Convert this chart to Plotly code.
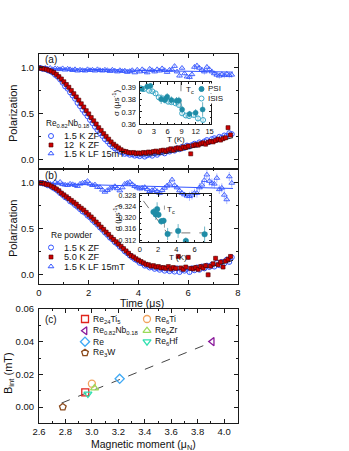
import numpy as np
import plotly.graph_objects as go

FONT = "Liberation Sans, Arial, Helvetica, sans-serif"

# ---------------- Panel (a): Re0.82Nb0.18 ----------------
t_a_zf15 = np.round(np.arange(0.05, 7.8, 0.1), 2)   # 1.5 K ZF time grid
p_a_zf15 = [1.00, 0.99, 0.99, 0.975, 0.965, 0.95, 0.925, 0.905, 0.875, 0.84,
            0.80, 0.775, 0.735, 0.70, 0.665, 0.62, 0.585, 0.545, 0.51, 0.475,
            0.435, 0.40, 0.36, 0.325, 0.29, 0.26, 0.225, 0.20, 0.17, 0.145,
            0.125, 0.105, 0.09, 0.08, 0.065, 0.07, 0.055, 0.06, 0.045, 0.05,
            0.04, 0.055, 0.035, 0.05, 0.06, 0.045, 0.07, 0.055, 0.075, 0.085,
            0.07, 0.095, 0.09, 0.11, 0.10, 0.125, 0.115, 0.14, 0.13, 0.155,
            0.145, 0.16, 0.175, 0.165, 0.19, 0.18, 0.2, 0.215, 0.195, 0.225,
            0.235, 0.22, 0.25, 0.24, 0.265, 0.26, 0.29, 0.28]
e_a_zf15 = [0.004] * 20 + [0.008] * 20 + [0.014] * 20 + [0.02] * 18

t_a_zf12 = np.round(np.arange(0.0, 7.75, 0.1), 2)   # 12 K ZF
p_a_zf12 = [1.00, 0.995, 0.99, 0.985, 0.975, 0.965, 0.95, 0.93, 0.905, 0.88,
            0.85, 0.82, 0.79, 0.755, 0.72, 0.685, 0.65, 0.61, 0.575, 0.535,
            0.50, 0.46, 0.425, 0.39, 0.35, 0.32, 0.285, 0.255, 0.225, 0.195,
            0.17, 0.15, 0.13, 0.11, 0.095, 0.09, 0.08, 0.075, 0.08, 0.07,
            0.075, 0.07, 0.08, 0.075, 0.085, 0.08, 0.09, 0.095, 0.085, 0.10,
            0.105, 0.095, 0.11, 0.12, 0.105, 0.125, 0.13, 0.12, 0.14, 0.135,
            0.15, 0.065, 0.155, 0.165, 0.16, 0.175, 0.185, 0.17, 0.19, 0.2,
            0.195, 0.21, 0.225, 0.215, 0.23, 0.24, 0.35, 0.27]
e_a_zf12 = [0.005] * 20 + [0.009] * 20 + [0.015] * 20 + [0.022] * 18

t_a_lf = np.round(np.arange(0.05, 7.8, 0.1), 2)     # 1.5 K LF 15 mT
p_a_lf = [1.0, 0.995, 1.0, 0.99, 1.0, 0.985, 0.995, 0.99, 0.985, 0.995,
          0.98, 0.99, 0.985, 0.975, 0.985, 0.97, 0.98, 0.975, 0.97, 0.985,
          0.975, 0.98, 0.97, 0.985, 0.975, 0.97, 0.98, 0.975, 0.965, 0.98,
          0.97, 0.96, 0.975, 0.965, 0.97, 0.955, 0.965, 0.975, 0.95, 0.98,
          0.96, 0.985, 0.965, 0.95, 0.99, 0.975, 0.96, 0.985, 0.97, 0.995,
          0.975, 0.955, 0.98, 0.98, 1.02, 0.96, 0.915, 1.0, 0.94, 0.905,
          0.9, 0.93, 1.01, 1.025, 1.0, 0.98, 0.96, 1.01, 0.985, 0.96,
          0.94, 0.925, 0.915, 0.93, 0.92, 0.935, 0.92, 0.925]
e_a_lf = [0.006] * 20 + [0.012] * 20 + [0.02] * 20 + [0.032] * 18

t_fit = np.round(np.arange(0.0, 7.81, 0.2), 2)
fit_a_15 = [1.0, 0.993, 0.975, 0.945, 0.90, 0.835, 0.77, 0.695, 0.615, 0.54,
            0.465, 0.39, 0.32, 0.255, 0.195, 0.145, 0.107, 0.08, 0.063, 0.054,
            0.05, 0.05, 0.053, 0.058, 0.066, 0.076, 0.087, 0.099, 0.112, 0.126,
            0.14, 0.154, 0.168, 0.182, 0.196, 0.21, 0.224, 0.238, 0.252, 0.266]
fit_a_12 = [1.0, 0.994, 0.978, 0.95, 0.905, 0.845, 0.78, 0.71, 0.635, 0.56,
            0.485, 0.41, 0.34, 0.275, 0.215, 0.16, 0.118, 0.085, 0.064, 0.052,
            0.046, 0.045, 0.047, 0.051, 0.057, 0.065, 0.074, 0.084, 0.095, 0.107,
            0.12, 0.133, 0.146, 0.159, 0.172, 0.186, 0.2, 0.214, 0.228, 0.242]
t_lf_fit = [0, 2, 4, 6, 7.8]
fit_a_lf = [0.995, 0.985, 0.975, 0.965, 0.955]

# ---------------- Panel (b): Re powder ----------------
t_b_zf15 = np.round(np.arange(0.05, 7.8, 0.1), 2)
p_b_zf15 = [1.0, 0.995, 0.99, 0.975, 0.97, 0.95, 0.935, 0.915, 0.89, 0.87,
            0.845, 0.83, 0.80, 0.785, 0.76, 0.74, 0.715, 0.69, 0.675, 0.645,
            0.625, 0.595, 0.57, 0.545, 0.515, 0.49, 0.46, 0.435, 0.405, 0.385,
            0.355, 0.335, 0.305, 0.285, 0.255, 0.235, 0.21, 0.19, 0.17, 0.155,
            0.13, 0.125, 0.10, 0.10, 0.08, 0.085, 0.065, 0.075, 0.055, 0.07,
            0.045, 0.065, 0.04, 0.06, 0.035, 0.07, 0.03, 0.055, 0.045, 0.065,
            0.03, 0.07, 0.05, 0.08, 0.055, 0.09, 0.07, 0.1, 0.085, 0.11,
            0.09, 0.13, 0.105, 0.14, 0.125, 0.165, 0.14, 0.19]
e_b_zf15 = [0.005] * 20 + [0.009] * 20 + [0.016] * 20 + [0.024] * 18

t_b_zf5 = np.round(np.arange(0.0, 7.75, 0.1), 2)
p_b_zf5 = [1.0, 1.0, 0.995, 0.985, 0.98, 0.965, 0.95, 0.935, 0.915, 0.89,
           0.87, 0.85, 0.83, 0.81, 0.79, 0.77, 0.745, 0.725, 0.705, 0.68,
           0.655, 0.63, 0.605, 0.575, 0.55, 0.52, 0.495, 0.465, 0.44, 0.41,
           0.385, 0.36, 0.335, 0.31, 0.285, 0.26, 0.235, 0.21, 0.195, 0.175,
           0.16, 0.145, 0.13, 0.115, 0.11, 0.095, 0.1, 0.085, 0.09, 0.075,
           0.08, 0.07, 0.09, 0.065, 0.08, 0.07, 0.2, 0.075, 0.06, 0.085,
           0.19, 0.07, 0.065, 0.08, 0.06, 0.09, 0.075, 0.1, 0.0, 0.095,
           0.12, 0.18, 0.11, 0.14, 0.085, 0.15, 0.17, 0.2]
e_b_zf5 = [0.005] * 20 + [0.01] * 20 + [0.018] * 20 + [0.026] * 18

t_b_lf = np.round(np.arange(0.05, 7.8, 0.1), 2)
p_b_lf = [1.0, 1.005, 0.995, 1.0, 0.99, 0.985, 1.01, 0.995,
          1.01, 0.985, 0.98, 0.975, 0.99, 0.985, 0.975, 0.965, 0.99, 1.0, 1.005, 1.02,
          0.99, 0.975, 0.982, 0.955, 0.953, 0.925, 0.902, 0.92, 0.938, 0.95,
          0.964, 0.94, 0.917, 0.95, 0.99, 1.0, 1.01, 0.985, 0.964, 0.95,
          0.938, 0.945, 0.953, 0.93, 0.91, 0.92, 0.928, 0.91, 0.89, 0.92,
          0.946, 0.97, 0.99, 1.036, 0.975, 0.95, 0.917, 0.89, 0.873, 0.86,
          0.855, 0.87, 0.89, 0.89, 0.95, 0.98, 1.03, 1.09, 1.02, 1.0,
          0.99, 1.054, 0.93, 0.946, 0.87, 0.82, 1.07, 1.0]
e_b_lf = [0.007] * 20 + [0.016] * 20 + [0.03] * 20 + [0.05] * 18

fit_b_15 = [1.0, 0.997, 0.985, 0.955, 0.915, 0.87, 0.83, 0.79, 0.748, 0.705,
            0.658, 0.605, 0.55, 0.495, 0.44, 0.388, 0.338, 0.288, 0.24, 0.195,
            0.157, 0.128, 0.105, 0.088, 0.077, 0.068, 0.062, 0.059, 0.058, 0.058,
            0.06, 0.065, 0.073, 0.083, 0.095, 0.11, 0.127, 0.147, 0.168, 0.19]
fit_b_5 = [1.0, 0.998, 0.987, 0.96, 0.922, 0.878, 0.838, 0.798, 0.756, 0.713,
           0.666, 0.614, 0.56, 0.505, 0.45, 0.398, 0.348, 0.298, 0.25, 0.205,
           0.166, 0.135, 0.11, 0.092, 0.08, 0.07, 0.064, 0.06, 0.058, 0.058,
           0.059, 0.062, 0.067, 0.074, 0.083, 0.094, 0.107, 0.122, 0.139, 0.158]
fit_b_lf = [0.995, 0.98, 0.965, 0.95, 0.94]

# ---------------- Inset (a): sigma vs T ----------------
T_psi_a = [0.5, 1.6, 2.3, 4.6, 5.4, 5.9, 6.8, 7.9, 8.4, 9.1, 10.7, 12.0, 13.5]
s_psi_a = [0.389, 0.391, 0.3915, 0.3805, 0.380, 0.3825, 0.3798, 0.3793, 0.3795,
           0.372, 0.3683, 0.3693, 0.372]
e_psi_a = [0.002, 0.0025, 0.002, 0.004, 0.003, 0.003, 0.003, 0.003, 0.003,
           0.003, 0.0025, 0.003, 0.006]
T_isis_a = [0.2, 0.9, 2.0, 2.7, 3.4, 4.1, 4.9, 5.4, 6.1, 6.8, 7.7, 8.4, 9.1,
            9.9, 10.6, 11.6, 12.5, 13.6]
s_isis_a = [0.3895, 0.3888, 0.3875, 0.387, 0.3853, 0.382, 0.3812, 0.3798, 0.3784,
            0.378, 0.3771, 0.3757, 0.3688, 0.367, 0.3665, 0.3674, 0.3646, 0.3633]
e_isis_a = [0.0015, 0.0015, 0.0015, 0.002, 0.002, 0.002, 0.002, 0.002, 0.002,
            0.002, 0.002, 0.002, 0.002, 0.002, 0.002, 0.002, 0.0025, 0.0025]
Tc_a = 8.85

# ---------------- Inset (b): sigma vs T ----------------
T_b_in = [1.5, 1.75, 1.9, 2.05, 2.35, 2.6, 3.05, 4.2, 5.05, 7.1]
s_b_in = [0.3222, 0.3213, 0.3232, 0.3212, 0.3188, 0.319, 0.3142, 0.3153, 0.3117, 0.3141]
e_b_in = [0.0013, 0.002, 0.0025, 0.0012, 0.0012, 0.001, 0.0022, 0.0025, 0.0012, 0.0028]
guide_b_T = [0.4, 3.0, 7.4]
guide_b_s = [0.3262, 0.3146, 0.3146]
Tc_b = 2.7

# ---------------- Panel (c): B_int vs magnetic moment ----------------
c_names = ["Re<sub>24</sub>Ti<sub>5</sub>", "Re<sub>0.82</sub>Nb<sub>0.18</sub>", "Re",
           "Re<sub>3</sub>W", "Re<sub>6</sub>Ti", "Re<sub>6</sub>Zr", "Re<sub>6</sub>Hf"]
c_moment = [2.95, 3.91, 3.21, 2.78, 3.0, 3.02, 2.97]
c_bint = [0.009, 0.0401, 0.0173, 0.0, 0.0143, 0.0116, 0.0080]
c_symbols = ["square-open", "triangle-left-open", "diamond-open", "pentagon-open",
             "circle-open", "triangle-up-open", "triangle-down-open"]
c_colors = ["#e0241c", "#8a1a9b", "#3fa9f5", "#8b4a1c", "#f2a35e", "#9ada5a", "#2fe0b0"]
c_fit_x = [2.77, 3.9]
c_fit_y = [0.0024, 0.0395]

# ---------------- styling ----------------
BLUE = "#3556ff"
BLUE_E = "rgba(70,100,255,0.55)"
RED = "#cc0000"
TEAL = "#1f8ca6"
TEAL2 = "#3aa7c6"
INK = "#1a1a1a"

L, R, T, B = 39, 238, 54, 423


def fx(px):
    return (px - L) / (R - L)


def fy(py):
    return (B - py) / (B - T)


fig = go.Figure()


def data_trace(x, y, err, xa, ya, symbol, size, color, line_color, lw, ecolor):
    fig.add_trace(go.Scatter(
        x=x, y=y, mode="markers", xaxis=xa, yaxis=ya, showlegend=False,
        marker=dict(symbol=symbol, size=size, color=color,
                    line=dict(color=line_color, width=lw)),
        error_y=dict(type="data", array=err, visible=True, thickness=0.8,
                     width=0, color=ecolor) if err is not None else None))


def line_trace(x, y, xa, ya, color, width, dash="solid"):
    fig.add_trace(go.Scatter(x=x, y=y, mode="lines", xaxis=xa, yaxis=ya,
                             showlegend=False,
                             line=dict(color=color, width=width, dash=dash)))


# panel (a)
data_trace(t_a_zf15, p_a_zf15, e_a_zf15, "x", "y", "circle-open", 5, BLUE, BLUE, 1, BLUE_E)
data_trace(t_a_lf, p_a_lf, e_a_lf, "x", "y", "triangle-up-open", 5, BLUE, BLUE, 0.9, BLUE_E)
line_trace(t_fit, fit_a_12, "x", "y", "#222222", 1)
line_trace(t_fit, fit_a_15, "x", "y", BLUE, 1)
line_trace(t_lf_fit, fit_a_lf, "x", "y", BLUE, 1)
data_trace(t_a_zf12, p_a_zf12, e_a_zf12, "x", "y", "square", 4, RED, "#4a0000", 0.6,
           "rgba(120,0,0,0.6)")

# panel (b)
data_trace(t_b_zf15, p_b_zf15, e_b_zf15, "x2", "y2", "circle-open", 5, BLUE, BLUE, 1, BLUE_E)
data_trace(t_b_lf, p_b_lf, e_b_lf, "x2", "y2", "triangle-up-open", 5, BLUE, BLUE, 0.9, BLUE_E)
line_trace(t_fit, fit_b_5, "x2", "y2", "#222222", 1)
line_trace(t_fit, fit_b_15, "x2", "y2", BLUE, 1)
line_trace(t_lf_fit, fit_b_lf, "x2", "y2", BLUE, 1)
data_trace(t_b_zf5, p_b_zf5, e_b_zf5, "x2", "y2", "square", 4, RED, "#4a0000", 0.6,
           "rgba(120,0,0,0.6)")

# inset (a)
line_trace([Tc_a, Tc_a], [0.3945, 0.374], "x4", "y4", "#888888", 1, "dash")
data_trace(T_isis_a, s_isis_a, e_isis_a, "x4", "y4", "circle-open", 5, TEAL2, TEAL2, 1,
           "rgba(58,167,198,0.7)")
data_trace(T_psi_a, s_psi_a, e_psi_a, "x4", "y4", "circle", 5, TEAL, TEAL, 0.5,
           "rgba(31,140,166,0.8)")

# inset (b)
line_trace(guide_b_T, guide_b_s, "x5", "y5", "#777777", 1, "dash")
line_trace([Tc_b, Tc_b], [0.3165, 0.3245], "x5", "y5", "#999999", 1, "dash")
data_trace(T_b_in, s_b_in, e_b_in, "x5", "y5", "circle", 5.5, TEAL, TEAL, 0.5,
           "rgba(31,140,166,0.8)")

# panel (c)
line_trace(c_fit_x, c_fit_y, "x3", "y3", "#444444", 1, "dash")
for name, xm, yb, sym, col in zip(c_names, c_moment, c_bint, c_symbols, c_colors):
    fig.add_trace(go.Scatter(x=[xm], y=[yb], mode="markers", xaxis="x3", yaxis="y3",
                             name=name, showlegend=False,
                             marker=dict(symbol=sym, size=7, color=col,
                                         line=dict(color=col, width=1.3))))

# legend keys (overlay axis in pixel units)
legend_keys = [
    (51, 136, "circle-open", BLUE, 5), (51, 145, "square", RED, 4),
    (51, 153.5, "triangle-up-open", BLUE, 5),
    (51, 247.5, "circle-open", BLUE, 5), (51, 257, "square", RED, 4),
    (51, 266.5, "triangle-up-open", BLUE, 5),
    (201.5, 89, "circle", TEAL, 5), (201.5, 98.5, "circle-open", TEAL2, 5),
]
for kx, ky, sym, col, sz in legend_keys:
    fig.add_trace(go.Scatter(
        x=[kx], y=[ky], mode="markers", xaxis="x6", yaxis="y6", showlegend=False,
        hoverinfo="skip",
        marker=dict(symbol=sym, size=sz, color=col,
                    line=dict(color="#4a0000" if sym == "square" else col,
                              width=0.6 if sym == "square" else 1))))
c_key_pos = [(85, 319), (85, 330.7), (85, 341.7), (85, 352.7),
             (147, 319), (147, 330.7), (147, 341.7)]
for (kx, ky), sym, col in zip(c_key_pos, c_symbols, c_colors):
    fig.add_trace(go.Scatter(
        x=[kx], y=[ky], mode="markers", xaxis="x6", yaxis="y6", showlegend=False,
        hoverinfo="skip",
        marker=dict(symbol=sym, size=7, color=col, line=dict(color=col, width=1.3))))

# ---------------- axes ----------------
def ax(**kw):
    base = dict(showline=True, linecolor=INK, linewidth=1, mirror="ticks",
                ticks="inside", ticklen=4, tickwidth=1, tickcolor=INK,
                showgrid=False, zeroline=False,
                tickfont=dict(size=9.5, color="#111", family=FONT),
                minor=dict(ticks="inside", ticklen=2, tickwidth=1, tickcolor=INK))
    mn = kw.pop("minor_dtick", None)
    if mn is not None:
        base["minor"]["dtick"] = mn
    base.update(kw)
    return base


dom_x = [0, 1]
dom_a = [fy(169), 1]
dom_b = [fy(284), fy(169)]
dom_c = [0, fy(309)]
inset_x = [fx(139.5), fx(211)]

small_font = dict(size=7.5, color="#111", family=FONT)

fig.update_layout(
    width=349, height=451,
    margin=dict(l=L, r=349 - R, t=T, b=451 - B),
    paper_bgcolor="white", plot_bgcolor="rgba(0,0,0,0)",
    font=dict(family=FONT, color="#111"),
    xaxis=ax(domain=dom_x, range=[0, 8.001], dtick=2, minor_dtick=1,
             showticklabels=False, anchor="y"),
    yaxis=ax(domain=dom_a, range=[-0.1, 1.152], dtick=0.5, minor_dtick=0.25,
             tickformat=".1f", anchor="x", ticklabelstandoff=2),
    xaxis2=ax(domain=dom_x, range=[0, 8.001], dtick=2, minor_dtick=1,
              anchor="y2", ticklabelstandoff=0),
    yaxis2=ax(domain=dom_b, range=[-0.1, 1.152], dtick=0.5, minor_dtick=0.25,
              tickformat=".1f", anchor="x2", ticklabelstandoff=2),
    xaxis3=ax(domain=dom_x, range=[2.6, 4.105], dtick=0.2, minor_dtick=0.1,
              tickformat=".1f", anchor="y3", ticklabelstandoff=0),
    yaxis3=ax(domain=dom_c, range=[-0.0098, 0.0601], dtick=0.02, minor_dtick=0.01,
              tickformat=".2f", anchor="x3", ticklabelstandoff=2),
    xaxis4=ax(domain=inset_x, range=[-0.05, 15.3], dtick=3, minor_dtick=1.5,
              anchor="y4", ticklen=2.5, tickfont=small_font, ticklabelstandoff=0,
              minor=dict(ticks="inside", ticklen=1.5, dtick=1.5, tickcolor=INK)),
    yaxis4=ax(domain=[fy(124), fy(82)], range=[0.36, 0.3947], dtick=0.01,
              tickformat=".2f", anchor="x4", ticklen=2.5, tickfont=small_font,
              ticklabelstandoff=1,
              minor=dict(ticks="inside", ticklen=1.5, dtick=0.005, tickcolor=INK)),
    xaxis5=ax(domain=inset_x, range=[-0.03, 7.8], dtick=2, anchor="y5", ticklen=2.5,
              tickfont=small_font, ticklabelstandoff=0,
              minor=dict(ticks="inside", ticklen=1.5, dtick=1, tickcolor=INK)),
    yaxis5=ax(domain=[fy(242), fy(194)], range=[0.3113, 0.3287], dtick=0.004,
              tickformat=".3f", anchor="x5", ticklen=2.5,
              tickfont=dict(size=7, color="#111", family=FONT), ticklabelstandoff=1,
              minor=dict(ticks="inside", ticklen=1.5, dtick=0.002, tickcolor=INK)),
    xaxis6=dict(domain=[0, 1], range=[L, R], visible=False, anchor="y6",
                fixedrange=True),
    yaxis6=dict(domain=[0, 1], range=[B, T], visible=False, anchor="x6",
                fixedrange=True),
)


def txt(text, x, y, size, xanchor="left", angle=0, color="#111", bg=None):
    d = dict(text=text, x=fx(x), y=fy(y), xref="paper", yref="paper",
             showarrow=False, xanchor=xanchor, yanchor="middle", textangle=angle,
             font=dict(size=size, color=color, family=FONT), borderpad=0)
    if bg:
        d["bgcolor"] = bg
    return d


ann = [
    txt("(a)", 44, 60, 10), txt("(b)", 44, 175, 10), txt("(c)", 44, 319, 10),
    txt("Re<sub>0.82</sub>Nb<sub>0.18</sub>", 45, 124, 8.2),
    txt("1.5 K ZF", 63, 136, 9.2), txt("12\u00a0 K ZF", 63, 145, 9.2),
    txt("1.5 K LF 15mT", 63, 153.5, 9.2),
    txt("Re powder", 50, 235, 8.5),
    txt("1.5 K ZF", 63, 247.5, 9.2), txt("5.0 K ZF", 63, 257, 9.2),
    txt("1.5 K LF 15mT", 63, 266.5, 9.2),
    txt("Polarization", 13, 113, 11, "center", -90),
    txt("Polarization", 13, 228, 11, "center", -90),
    txt("Time (\u03bcs)", 142, 302.5, 10.5, "center"),
    txt("B<sub>int</sub> (mT)", 9, 373, 11, "center", -90),
    txt("Magnetic moment (\u03bc<sub>N</sub>)", 143, 445, 10.5, "center"),
    # inset (a)
    txt("\u03c3 (\u03bcs<sup>-1</sup>)", 116, 103, 8, "center", -90),
    txt("T (K)", 176, 139.5, 8, "center"),
    txt("T<sub>c</sub>", 184.5, 90, 8),
    txt("PSI", 206.5, 89, 8, bg="white"), txt("ISIS", 206.5, 98.5, 8, bg="white"),
    # inset (b)
    txt("\u03c3 (\u03bcs<sup>-1</sup>)", 117, 218, 8, "center", -90),
    txt("T (K)", 178, 257.5, 8, "center"),
    txt("T<sub>c</sub>", 165.5, 209.5, 8),
]
for (kx, ky), name in zip(c_key_pos, c_names):
    ann.append(txt(name, kx + 6.5, ky, 8.5))
fig.update_layout(annotations=ann)

fig.write_html("out.html",
               config={"displayModeBar": False},
               post_script="document.body.style.margin='0px';"
                           "document.body.style.overflow='hidden';")
